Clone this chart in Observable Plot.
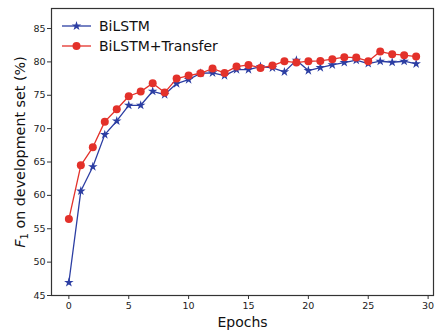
<!DOCTYPE html>
<html><head><meta charset="utf-8">
<script src="https://cdn.jsdelivr.net/npm/d3@7"></script>
<script src="https://cdn.jsdelivr.net/npm/@observablehq/plot@0.6"></script>
<style>body{margin:0;background:#fff}</style>
</head><body><div id="chart"></div>
<script>
const epochs = [0,1,2,3,4,5,6,7,8,9,10,11,12,13,14,15,16,17,18,19,20,21,22,23,24,25,26,27,28,29];
const bilstm = [46.95,60.65,64.3,69.1,71.15,73.5,73.5,75.6,75.1,76.75,77.35,78.3,78.35,77.95,78.85,78.85,79.3,79.1,78.5,80.25,78.7,79.15,79.55,79.9,80.25,79.75,80.1,79.95,80.1,79.7];
const transfer = [56.45,64.5,67.2,71.05,72.9,74.85,75.55,76.8,75.4,77.5,77.95,78.3,79.0,78.35,79.3,79.55,79.1,79.45,80.1,79.9,80.1,80.15,80.4,80.7,80.65,80.1,81.55,81.15,81.0,80.8];
const seriesNames = ["BiLSTM", "BiLSTM+Transfer"];
const colors = ["#2c3ea3", "#e3312a"];
const xTicks = [0,5,10,15,20,25,30];
const yTicks = [45,50,55,60,65,70,75,80,85];

const blue = epochs.map((e,i)=>({epoch:e, f1:bilstm[i]}));
const red = epochs.map((e,i)=>({epoch:e, f1:transfer[i]}));

const chart = Plot.plot({
  width: 439, height: 331,
  marginLeft: 51, marginRight: 6, marginTop: 8, marginBottom: 36,
  style: {fontFamily: "DejaVu Sans", fontSize: "9.5px", color: "#222", background: "white", overflow: "visible"},
  x: {domain: [-1.45, 30.45]},
  y: {domain: [45, 88]},
  marks: [
    Plot.axisX({ticks: xTicks, tickSize: 4, tickPadding: 3, label: null, stroke: "#333"}),
    Plot.axisY({ticks: yTicks, tickSize: 4, tickPadding: 2, label: null, stroke: "#333"}),
    Plot.line(blue, {x: "epoch", y: "f1", stroke: colors[0], strokeWidth: 1.3}),
    Plot.dot(blue, {x: "epoch", y: "f1", symbol: "star", r: 3, fill: colors[0], stroke: "none"}),
    Plot.line(red, {x: "epoch", y: "f1", stroke: colors[1], strokeWidth: 1.3}),
    Plot.dot(red, {x: "epoch", y: "f1", symbol: "circle", r: 4, fill: colors[1], stroke: "none"}),
    Plot.frame({stroke: "#333", strokeWidth: 1.2}),
    Plot.text(["Epochs"], {frameAnchor: "bottom", dy: 27, lineAnchor: "middle", text: d => d, fontSize: 14, fill: "#111"}),
    Plot.text(["F1 on development set (%)"], {frameAnchor: "left", dx: -31, rotate: -90, textAnchor: "middle", lineAnchor: "middle", text: d => d, fontSize: 14.3, fill: "#111"})
  ]
});
document.getElementById("chart").appendChild(chart);

// Rich y label: italic F with subscript 1
const svg = d3.select(chart);
svg.selectAll("text").each(function(){
  const t = d3.select(this);
  if (t.text() === "F1 on development set (%)") {
    t.text(null);
    t.append("tspan").attr("font-style", "italic").text("F");
    t.append("tspan").attr("dy", 3).attr("font-size", 10).text("1");
    t.append("tspan").attr("dy", -3).text(" on development set (%)");
  }
});

// Legend
const lg = svg.append("g").attr("font-family", "DejaVu Sans").attr("font-size", 14).attr("text-anchor", "start");
const symbols = [d3.symbolStar, d3.symbolCircle];
const sizes = [3*3*Math.PI, 4*4*Math.PI];
seriesNames.forEach((name, i) => {
  const y = 26 + i * 20;
  lg.append("line").attr("x1", 62).attr("x2", 91).attr("y1", y).attr("y2", y)
    .attr("stroke", colors[i]).attr("stroke-width", 1.3);
  lg.append("path").attr("d", d3.symbol(symbols[i], sizes[i])())
    .attr("transform", `translate(76.5,${y})`).attr("fill", colors[i]);
  lg.append("text").attr("x", 99).attr("y", y).attr("dy", "0.35em").attr("text-anchor", "start").attr("fill", "#111").text(name);
});
</script>
</body></html>
